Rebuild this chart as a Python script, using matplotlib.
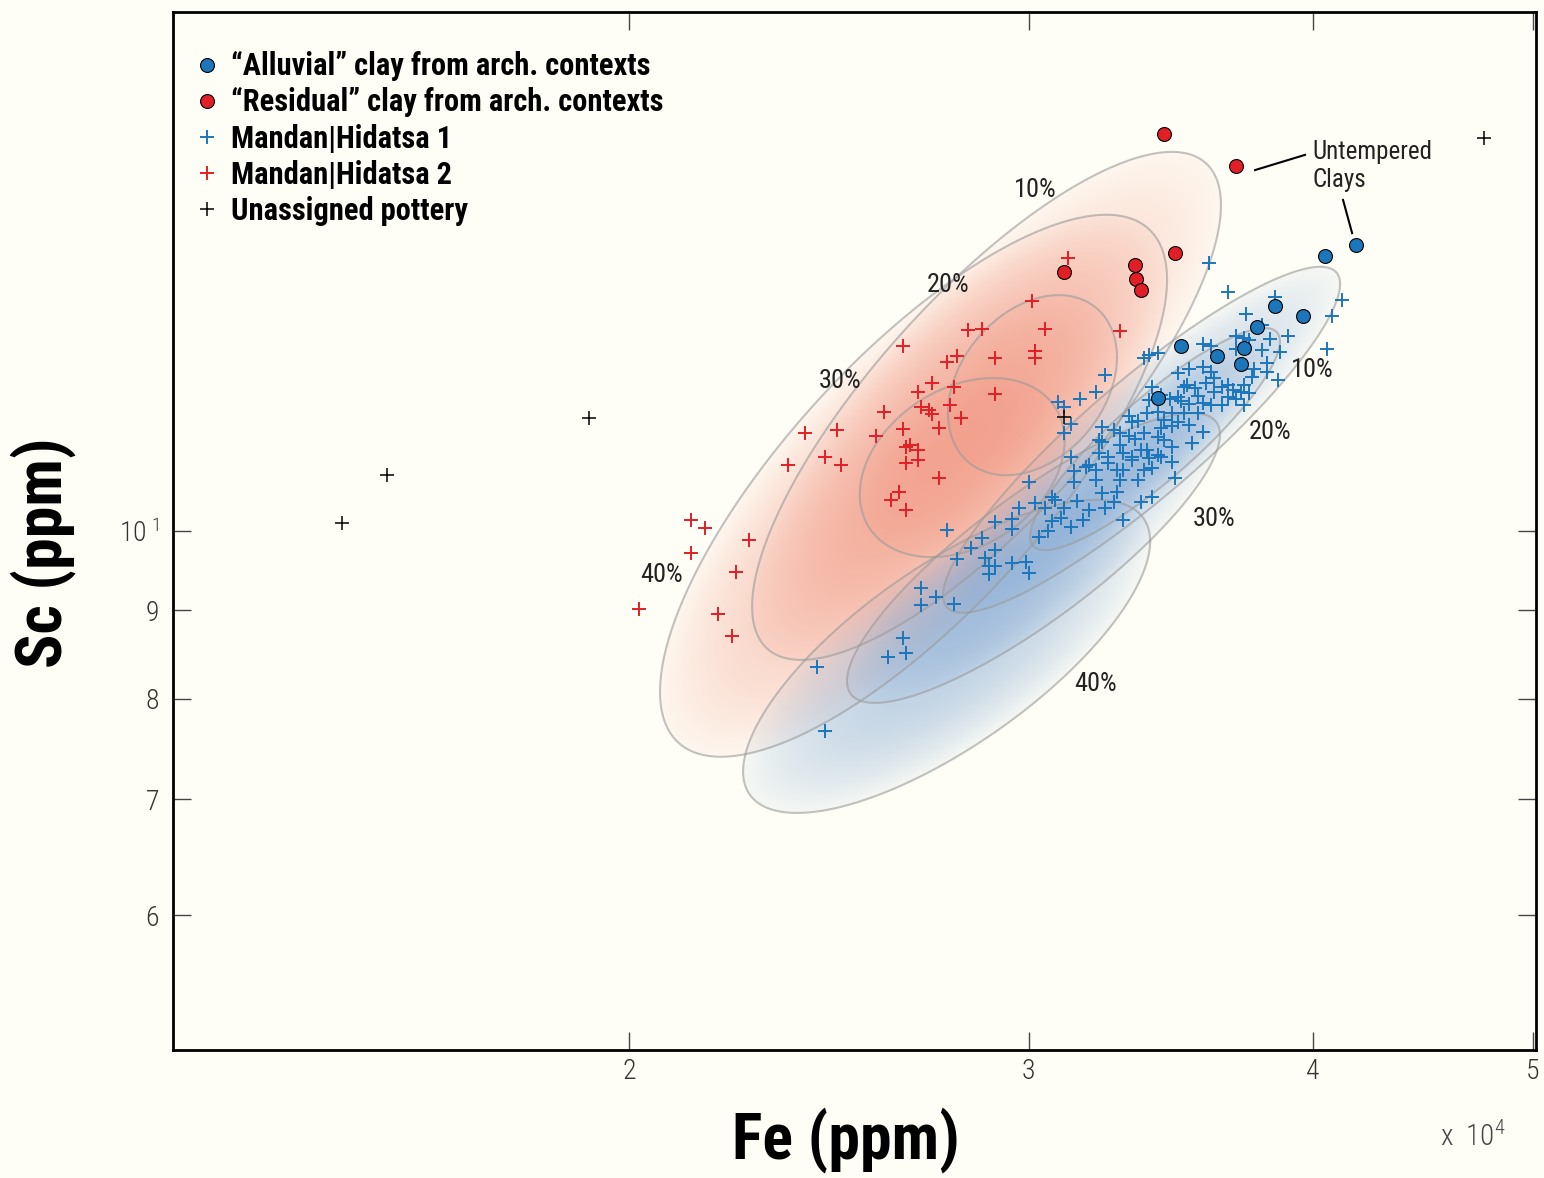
import numpy as np
import matplotlib.pyplot as plt
from matplotlib.colors import LinearSegmentedColormap
from matplotlib.ticker import NullLocator

# Fe in units of 10^4 ppm, Sc in ppm
alluvial_fe = [3.50, 3.63, 3.72, 3.73, 3.78, 3.85, 3.96, 4.05, 4.18, 3.42]
alluvial_sc = [12.79, 12.62, 12.49, 12.76, 13.12, 13.49, 13.31, 14.42, 14.63, 11.93]

residual_fe = [3.44, 3.70, 3.48, 3.34, 3.345, 3.36, 3.11]
residual_sc = [16.95, 16.25, 14.47, 14.24, 13.98, 13.78, 14.11]

mh1_fe = [3.60, 3.67, 4.12, 4.08, 4.06, 3.85, 3.74, 3.80, 3.90, 3.83,
          3.87, 3.70, 3.73, 3.75, 3.70, 3.80, 3.82, 3.77, 3.76, 3.86,
          3.58, 3.61, 3.37, 3.39, 3.42, 3.24, 3.21, 3.16, 3.09, 3.11,
          3.13, 3.11, 3.49, 3.53, 3.58, 3.61, 3.59, 3.62, 3.65, 3.67,
          3.69, 3.72, 3.75, 3.67, 3.70, 3.40, 3.39, 3.52, 3.55, 3.56,
          3.49, 3.46, 3.50, 3.53, 3.58, 3.61, 3.73, 3.51, 3.47, 3.42,
          3.32, 3.35, 3.38, 3.49, 3.47, 3.58, 3.54, 3.47, 3.44, 3.42,
          3.33, 3.23, 3.27, 3.29, 3.32, 3.34, 3.37, 3.23, 3.13, 3.22,
          3.25, 3.30, 3.33, 3.38, 3.42, 3.39, 3.25, 3.19, 3.28, 3.30,
          3.14, 3.14, 3.21, 3.29, 3.35, 3.00, 3.47, 3.48, 3.36, 3.28,
          3.23, 3.08, 3.07, 3.15, 3.02, 2.97, 3.11, 3.24, 3.27, 3.36,
          3.40, 3.30, 3.07, 3.10, 2.95, 2.90, 2.95, 3.13, 3.06, 3.03,
          2.76, 2.86, 2.83, 2.90, 2.79, 2.87, 2.88, 2.90, 2.95, 2.99,
          3.00, 2.88, 2.69, 2.73, 2.69, 2.78, 2.64, 2.60, 2.65, 2.42,
          2.44, 3.21, 3.22, 3.40, 3.43, 3.33, 3.65, 3.44, 3.53, 3.62,
          3.51, 3.43, 3.18, 3.29, 3.37, 3.05, 3.19, 3.17, 3.43, 3.56,
          3.82, 3.73]
mh1_sc = [14.28, 13.74, 13.60, 13.31, 12.74, 13.65, 13.35, 13.15, 12.96, 12.91,
          12.69, 12.96, 12.93, 12.89, 12.74, 12.72, 12.50, 12.41, 12.27, 12.22,
          12.82, 12.79, 12.59, 12.64, 12.67, 12.31, 12.03, 11.92, 11.87, 11.79,
          11.53, 11.39, 12.34, 12.41, 12.44, 12.36, 12.18, 12.26, 12.11, 12.14,
          12.06, 12.03, 12.02, 11.95, 11.92, 12.11, 11.90, 12.14, 12.10, 11.97,
          11.95, 11.92, 11.89, 11.84, 11.86, 11.83, 11.83, 11.70, 11.70, 11.72,
          11.65, 11.58, 11.70, 11.56, 11.50, 11.41, 11.24, 11.18, 11.29, 11.33,
          11.56, 11.48, 11.44, 11.39, 11.35, 11.30, 11.39, 11.26, 11.03, 11.09,
          11.03, 11.09, 10.99, 11.14, 11.06, 11.02, 10.95, 10.92, 10.85, 10.85,
          10.83, 10.67, 10.70, 10.70, 10.70, 10.67, 10.96, 10.73, 11.14, 10.53,
          10.52, 10.42, 10.46, 10.41, 10.38, 10.31, 10.31, 10.31, 10.39, 10.39,
          10.46, 10.15, 10.13, 10.17, 10.16, 10.12, 10.03, 10.05, 10.00, 9.92,
          10.01, 9.91, 9.78, 9.75, 9.63, 9.65, 9.55, 9.55, 9.58, 9.60,
          9.46, 9.45, 9.27, 9.16, 9.06, 9.08, 8.67, 8.46, 8.50, 8.35,
          7.66, 10.85, 11.29, 10.88, 11.03, 11.03, 11.83, 11.59, 11.51, 12.03,
          12.11, 11.98, 10.89, 11.21, 10.85, 10.31, 10.28, 10.15, 11.47, 11.70,
          12.36, 12.14]

mh2_fe = [3.12, 3.01, 2.64, 2.82, 2.86, 3.05, 3.29, 3.02, 3.02, 2.90,
          2.79, 2.76, 2.72, 2.78, 2.90, 2.68, 2.69, 2.71, 2.72, 2.77,
          2.80, 2.59, 2.64, 2.74, 2.57, 2.65, 2.66, 2.68, 2.65, 2.68,
          2.74, 2.63, 2.61, 2.65, 2.47, 2.39, 2.44, 2.48, 2.35, 2.13,
          2.16, 2.26, 2.13, 2.23, 2.19, 2.22, 2.02]
mh2_sc = [14.38, 13.58, 12.79, 13.06, 13.08, 13.08, 13.05, 12.70, 12.59, 12.59,
          12.62, 12.52, 12.18, 12.11, 12.00, 12.03, 11.79, 11.74, 11.68, 11.82,
          11.62, 11.71, 11.45, 11.47, 11.35, 11.18, 11.21, 11.14, 10.95, 10.99,
          10.73, 10.53, 10.42, 10.28, 11.44, 11.39, 11.03, 10.92, 10.92, 10.15,
          10.04, 9.88, 9.71, 9.47, 8.96, 8.70, 9.01]

unassigned_fe = [1.495, 1.565, 1.92, 3.11, 4.76]
unassigned_sc = [10.11, 10.77, 11.62, 11.64, 16.86]

# temper-mixing ellipses: centre (Fe 1e4 ppm, Sc ppm), half extents in log10 units, correlation
red_ell_fe = [2.874, 2.669, 3.011, 2.804]
red_ell_sc = [11.81, 10.62, 12.14, 10.88]
red_ell_sfe = [0.1032, 0.1116, 0.0372, 0.0451]
red_ell_ssc = [0.1467, 0.1565, 0.0520, 0.0517]
red_ell_rho = [0.79, 0.76, 0.31, 0.30]

blue_ell_fe = [3.363, 3.409, 3.014, 2.760]
blue_ell_sc = [11.29, 11.30, 9.648, 8.464]
blue_ell_sfe = [0.0874, 0.0550, 0.0821, 0.0896]
blue_ell_ssc = [0.0999, 0.0641, 0.0837, 0.0904]
blue_ell_rho = [0.90, 0.88, 0.85, 0.735]

BG = '#fffef6'
BLUE = '#1c76bb'
RED = '#e21f26'
NARROW = ['Roboto Condensed', 'Open Sans Condensed', 'Liberation Sans Narrow', 'Roboto', 'DejaVu Sans']


def ellipse_cov(sx, sy, rho):
    return np.array([[sx * sx, rho * sx * sy], [rho * sx * sy, sy * sy]])


def shade(ax, fe, sc, sfe, ssc, rho, rgb, lx, ly, amps):
    LX, LY = np.meshgrid(lx, ly)
    keep = np.ones_like(LX)
    for f, s, a, b, r, amp in zip(fe, sc, sfe, ssc, rho, amps):
        inv = np.linalg.inv(ellipse_cov(a, b, r))
        dx = LX - np.log10(f * 1e4)
        dy = LY - np.log10(s)
        r2 = inv[0, 0] * dx * dx + 2 * inv[0, 1] * dx * dy + inv[1, 1] * dy * dy
        alpha = np.where(r2 < 1, 0.05 + amp * (1 - r2), 0.0)
        keep *= 1 - alpha
    cmap = LinearSegmentedColormap.from_list('fade', [rgb + (0.0,), rgb + (1.0,)])
    ax.pcolormesh(10 ** LX, 10 ** LY, 1 - keep, cmap=cmap, vmin=0, vmax=1,
                  shading='nearest', antialiased=False, zorder=1, rasterized=True)


def outline(ax, fe, sc, sfe, ssc, rho):
    t = np.linspace(0, 2 * np.pi, 300)
    for f, s, a, b, r in zip(fe, sc, sfe, ssc, rho):
        L = np.linalg.cholesky(ellipse_cov(a, b, r))
        pts = L @ np.vstack([np.cos(t), np.sin(t)])
        ax.plot(10 ** (np.log10(f * 1e4) + pts[0]), 10 ** (np.log10(s) + pts[1]),
                color='#9a9a9a', lw=1.5, alpha=0.6, zorder=2)


plt.rcParams['font.family'] = NARROW

fig = plt.figure(figsize=(15.44, 11.78), dpi=100, facecolor=BG)
ax = fig.add_axes([0.11205, 0.10866, 0.88277, 0.88115])
ax.set_facecolor(BG)
ax.set_xscale('log')
ax.set_yscale('log')

lx = np.linspace(np.log10(1.7e4), np.log10(4.9e4), 700)
ly = np.linspace(np.log10(6.3), np.log10(19.5), 700)
shade(ax, red_ell_fe, red_ell_sc, red_ell_sfe, red_ell_ssc, red_ell_rho,
      (0.92, 0.43, 0.33), lx, ly, [0.24, 0.36, 0.06, 0.08])
shade(ax, blue_ell_fe, blue_ell_sc, blue_ell_sfe, blue_ell_ssc, blue_ell_rho,
      (0.27, 0.49, 0.76), lx, ly, [0.24, 0.14, 0.24, 0.30])
outline(ax, red_ell_fe, red_ell_sc, red_ell_sfe, red_ell_ssc, red_ell_rho)
outline(ax, blue_ell_fe, blue_ell_sc, blue_ell_sfe, blue_ell_ssc, blue_ell_rho)

e4 = lambda v: np.array(v) * 1e4
h_mh1, = ax.plot(e4(mh1_fe), mh1_sc, '+', color=BLUE, ms=10.5, mew=1.4, ls='none', zorder=3)
h_mh2, = ax.plot(e4(mh2_fe), mh2_sc, '+', color=RED, ms=10.5, mew=1.4, ls='none', zorder=3)
h_un, = ax.plot(e4(unassigned_fe), unassigned_sc, '+', color='k', ms=9.5, mew=1.1, ls='none', zorder=3)
h_all, = ax.plot(e4(alluvial_fe), alluvial_sc, 'o', mfc=BLUE, mec='k', ms=10, mew=0.8, ls='none', zorder=4)
h_res, = ax.plot(e4(residual_fe), residual_sc, 'o', mfc=RED, mec='k', ms=10, mew=0.8, ls='none', zorder=4)

# percentage labels on the mixing ellipses
pct_kw = dict(fontsize=19, color='#222222', ha='center', va='center', zorder=5)
ax.text(3.02e4, 15.74, '10%', **pct_kw)
ax.text(2.764e4, 13.87, '20%', **pct_kw)
ax.text(2.477e4, 12.21, '30%', **pct_kw)
ax.text(2.068e4, 9.43, '40%', **pct_kw)
ax.text(4.00e4, 12.39, '10%', **pct_kw)
ax.text(3.831e4, 11.41, '20%', **pct_kw)
ax.text(3.62e4, 10.16, '30%', **pct_kw)
ax.text(3.21e4, 8.16, '40%', **pct_kw)

ax.text(4.00e4, 16.25, 'Untempered\nClays', fontsize=18, color='#222222',
        ha='left', va='center', linespacing=1.25, zorder=5)
ax.plot([3.773e4, 3.969e4], [16.16, 16.49], color='k', lw=1.5, zorder=5)
ax.plot([4.125e4, 4.163e4], [15.53, 14.86], color='k', lw=1.5, zorder=5)

ax.set_xlim(1.26e4, 5.016e4)
ax.set_ylim(5.015, 19.94)
ax.set_xticks([2e4, 3e4, 4e4, 5e4])
ax.set_xticklabels(['2', '3', '4', '5'])
ax.set_yticks([6, 7, 8, 9, 10])
ax.set_yticklabels(['6', '7', '8', '9', r'$\mathregular{10^{\;1}}$'])
for lab in ax.get_xticklabels() + ax.get_yticklabels():
    lab.set_fontweight('light')
ax.xaxis.set_minor_locator(NullLocator())
ax.yaxis.set_minor_locator(NullLocator())
ax.tick_params(direction='in', length=13, width=1, color='#444444', top=True, right=True,
               labelsize=20, labelcolor='#333333')
ax.tick_params(axis='x', pad=6)
ax.tick_params(axis='y', pad=10)
for sp in ax.spines.values():
    sp.set_linewidth(2)

ax.text(0.9296, -0.083, r'x  $\mathregular{10^{4}}$', transform=ax.transAxes, fontsize=21,
        color='#444444', fontweight='light', ha='left', va='center')

ax.set_xlabel('Fe (ppm)', fontsize=46, fontweight='bold')
ax.set_ylabel('Sc (ppm)', fontsize=46, fontweight='bold')
ax.xaxis.set_label_coords(0.4938, -0.055)
ax.yaxis.set_label_coords(-0.0712, 0.479)

leg = ax.legend([h_all, h_res, h_mh1, h_mh2, h_un],
                ['\u201cAlluvial\u201d clay from arch. contexts',
                 '\u201cResidual\u201d clay from arch. contexts',
                 'Mandan|Hidatsa 1', 'Mandan|Hidatsa 2', 'Unassigned pottery'],
                loc='upper left', bbox_to_anchor=(0.007, 0.974), frameon=False,
                prop={'size': 22, 'weight': 'bold'}, handlelength=0.8,
                handletextpad=0.4, labelspacing=0.2, borderaxespad=0)

fig.savefig('out.png', dpi=100, facecolor=BG)
